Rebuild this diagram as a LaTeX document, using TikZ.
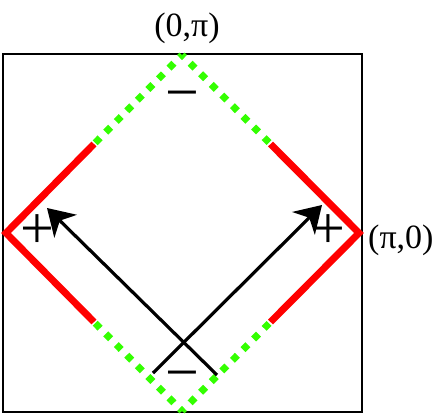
\documentclass[tikz,border=0pt]{standalone}
\usepackage{fontspec}
\setmainfont{Liberation Serif}
\usetikzlibrary{arrows.meta,calc}
\definecolor{lime}{RGB}{51,255,0}
\begin{document}
\begin{tikzpicture}[x=1pt,y=-1pt,>={Stealth[length=26pt,width=32pt,inset=8pt]}]
\tikzstyle{side}=[red,line width=7pt,line join=miter]
\tikzstyle{nullb}=[lime,line width=7pt,dash pattern=on 7pt off 8pt,dash phase=3.5pt]
\tikzstyle{ray}=[->,line width=3.2pt]
\tikzstyle{sgn}=[font=\fontsize{60}{60}\selectfont,anchor=base,inner sep=0pt]
\tikzstyle{lab}=[font=\fontsize{34}{34}\selectfont,inner sep=0pt]
\useasboundingbox (0,0) rectangle (437,418);
\draw[line width=2.5pt] (3,54) rectangle (362,412);
% corners of the diamond
\coordinate (T) at (182,55);
\coordinate (L) at (6,233);
\coordinate (R) at (359,233);
\coordinate (B) at (182,411);
\foreach \a/\b in {T/L,T/R,B/L,B/R} \coordinate (\a\b) at ($(\a)!0.5!(\b)$);
\draw[side] (TL) -- (L) -- (BL);
\draw[side] (TR) -- (R) -- (BR);
\foreach \a/\b in {T/L,T/R,B/L,B/R} \draw[nullb] (\a) -- (\a\b);
% the two rays
\coordinate (p1) at (153,373);
\coordinate (q1) at (322,205);
\coordinate (p2) at (217,375);
\coordinate (q2) at (47,208);
\draw[ray] (p1) -- (q1);
\draw[ray] (p2) -- (q2);
\node[lab,anchor=base] (toplab) at (187,36) {(0,π)};
\node[lab,anchor=base west] (rightlab) at (368,248) {(π,0)};
\node[sgn] (mtop) at (182,112) {−};
\node[sgn] (mbot) at (182,392) {−};
\node[sgn] (pleft) at (37,248) {+};
\node[sgn] (pright) at (328,248) {+};
\end{tikzpicture}
\end{document}
